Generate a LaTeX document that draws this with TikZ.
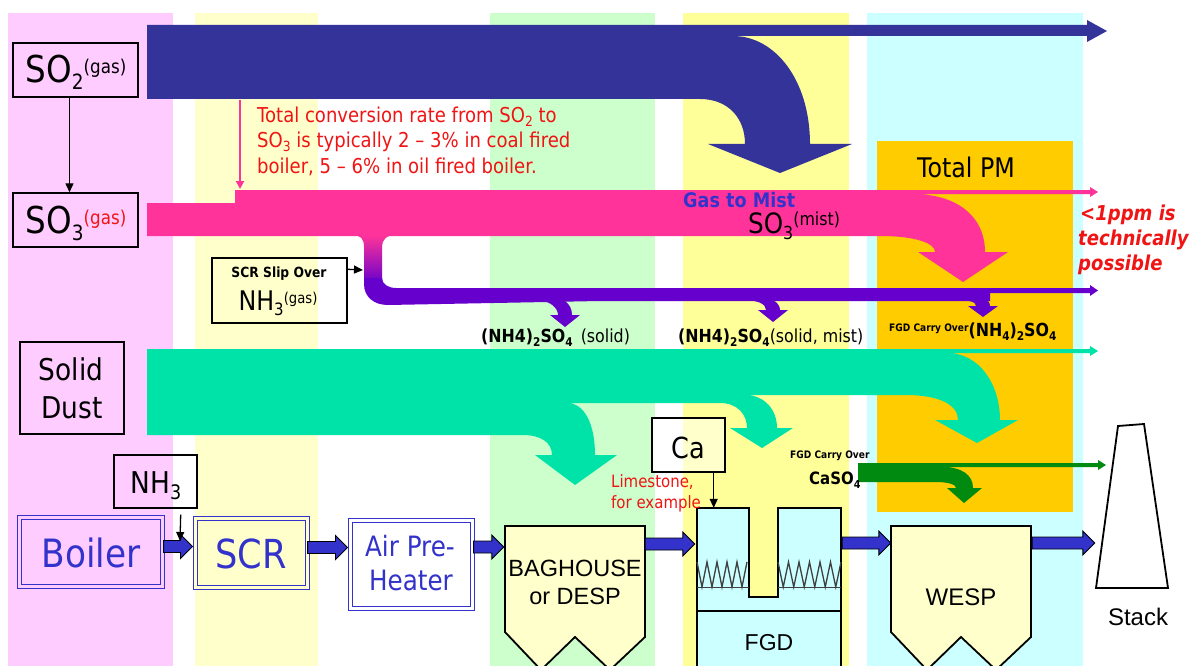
\documentclass[tikz,border=0pt]{standalone}
\usepackage{fontspec}
\setmainfont{DejaVu Sans}[FakeStretch=0.88]
\newfontfamily\arl{Liberation Sans}
\usetikzlibrary{calc,arrows.meta}
\definecolor{ink}{HTML}{000000}
\definecolor{colpink}{HTML}{FFCCFF}
\definecolor{colly}{HTML}{FFFFCC}
\definecolor{colgreen}{HTML}{CCFFCC}
\definecolor{colyellow}{HTML}{FFFF99}
\definecolor{colcyan}{HTML}{CCFFFF}
\definecolor{colorange}{HTML}{FFCC00}
\definecolor{bdblue}{HTML}{333399}
\definecolor{bpink}{HTML}{FF3399}
\definecolor{bpurple}{HTML}{6600CC}
\definecolor{bteal}{HTML}{00E3A8}
\definecolor{bgreen}{HTML}{008A10}
\definecolor{procblue}{HTML}{3333CC}
\definecolor{tred}{HTML}{F01414}
\definecolor{zigc}{HTML}{404040}
\definecolor{paper}{HTML}{FFFFFF}
\newcommand{\fs}[2]{\fontsize{#1pt}{#2pt}\selectfont}
\newcommand{\lowr}[3]{\raisebox{-#1pt}{\fontsize{#2pt}{#2pt}\selectfont #3}}
\newcommand{\upr}[3]{\raisebox{#1pt}{\fontsize{#2pt}{#2pt}\selectfont #3}}
\begin{document}
\begin{tikzpicture}[x=1pt,y=-1pt,
  chembox/.style={draw=ink, fill=#1, line width=1.4pt, inner sep=0pt},
  procbox/.style={draw=procblue, fill=#1, double=#1, double distance=2.5pt, line width=1.1pt, inner sep=0pt},
  hidden/.style={inner sep=0pt},
  plainarrow/.style={draw=ink, line width=1.3pt, -{Triangle[length=9pt,width=8pt]}},
  blockarrow/.style={draw=ink, line width=0.9pt, fill=procblue,
    to path={let \p1=(\tikztostart), \p2=(\tikztotarget) in
      (\x1,\y1+6pt) -- (\x2-12pt,\y1+6pt) -- (\x2-12pt,\y1+12pt) -- (\x2,\y1)
      -- (\x2-12pt,\y1-12pt) -- (\x2-12pt,\y1-6pt) -- (\x1,\y1-6pt) -- cycle}},
  vessel/.style={draw=ink, line width=1.8pt},
  zig/.style={draw=zigc, line width=1.3pt},
  lbl/.style={inner sep=0pt, anchor=base, text=ink},
  lblw/.style={inner sep=0pt, anchor=base west, text=ink},
]
\useasboundingbox (0,0) rectangle (1199,666);
\clip (0,0) rectangle (1199,666);
\fill[paper] (0,0) rectangle (1199,666);
\fill[colpink] (8,13) rectangle (173,666);
\fill[colly] (195,13) rectangle (318,666);
\fill[colgreen] (490,13) rectangle (655,666);
\fill[colyellow] (683,13) rectangle (849,666);
\fill[colcyan] (867,13) rectangle (1083,666);
\fill[colorange] (877,141) rectangle (1073,512);
% SO2 band
\fill[bdblue] (147,25) -- (1087,25) -- (1087,20) -- (1107,31) -- (1087,42) -- (1087,36) -- (733,36)
  .. controls (775,36) and (810,80) .. (810,144) -- (852,144) -- (780,173) -- (708,144) -- (745,144)
  .. controls (745,118) and (728,99) .. (700,99) -- (147,99) -- cycle;
% SO3 band
\fill[bpink] (147,203) -- (235,203) -- (235,190) -- (1090,190) -- (1090,187) -- (1098,192) -- (1090,197) -- (1090,194) -- (913,194)
  .. controls (955,194) and (985,215) .. (985,252) -- (1008,252) -- (963,282) -- (918,252) -- (935,252)
  .. controls (935,243) and (915,236) .. (880,236) -- (147,236) -- cycle;
\shade[top color=bpink, bottom color=bpurple] (352,235) .. controls (361,235) and (364,239) .. (364,247) -- (364,284) -- (382,284) -- (382,247) .. controls (382,240) and (386,235) .. (396,235) -- cycle;
\fill[bpurple] (364,278) -- (364,284) .. controls (364,297) and (374,305) .. (388,305) -- (600,301) -- (990,301) -- (990,293) -- (1090,293) -- (1090,296) -- (1098,290.5) -- (1090,285) -- (1090,288) -- (396,288) .. controls (388,288) and (382,284) .. (382,278) -- cycle;
\fill[bpurple] (545,296) .. controls (562,296) and (572,303) .. (572,315) -- (580,315) -- (565,327) -- (550,315) -- (558,315) .. controls (558,308) and (550,300) .. (535,300) -- cycle;
\fill[bpurple] (752,296) .. controls (770,296) and (780,302) .. (780,310) -- (788,310) -- (773,322) -- (758,310) -- (766,310) .. controls (766,304) and (758,300) .. (742,300) -- cycle;
\fill[bpurple] (962,294) .. controls (980,294) and (990,299) .. (990,306) -- (998,306) -- (983,317) -- (968,306) -- (976,306) .. controls (976,302) and (970,300) .. (955,300) -- cycle;
% solid dust band
\fill[bteal] (147,349) -- (1090,349) -- (1090,346) -- (1098,351) -- (1090,356) -- (1090,353) -- (947,353)
  .. controls (980,353) and (1000,385) .. (1000,420) -- (1018,420) -- (977,443) -- (935,420) -- (958,420)
  .. controls (958,405) and (940,395) .. (905,395) -- (745,395)
  .. controls (765,395) and (777,410) .. (777,428) -- (793,428) -- (762,448) -- (730,428) -- (747,428)
  .. controls (747,415) and (738,403) .. (720,403) -- (567,403)
  .. controls (585,403) and (595,425) .. (595,455) -- (617,455) -- (575,485) -- (535,455) -- (552,455)
  .. controls (552,442) and (540,435) .. (523,435) -- (147,435) -- cycle;
% CaSO4 band
\fill[bgreen] (858,463) -- (1098,463) -- (1098,460) -- (1106,465) -- (1098,470) -- (1098,467) -- (942,467)
  .. controls (962,467) and (973,475) .. (973,488) -- (982,488) -- (964,503) -- (947,488) -- (956,488)
  .. controls (956,485) and (950,482) .. (935,482) -- (858,482) -- cycle;
% conversion annotation arrow
\coordinate (convfrom) at (240,100);
\coordinate (convto) at (240,189);
\draw[bpink, line width=2pt, -{Triangle[length=8pt,width=8pt]}] (convfrom) -- (convto);
% vessels
\node[hidden, minimum width=140pt, minimum height=111pt] (bag) at (575,581.5) {};
\node[hidden, minimum width=140pt, minimum height=111pt] (wesp) at (961,581.5) {};
\node[hidden, minimum width=144pt, minimum height=158pt] (fgd) at (769,587) {};
\node[hidden, minimum width=72pt, minimum height=165pt] (stack) at (1132,506.5) {};
\filldraw[fill=colly, vessel] (505,632) -- (505,526) -- (645,526) -- (645,637) -- (610,670) -- (575,637) -- (541,670) -- cycle;
\filldraw[fill=colly, vessel] (891,632) -- (891,526) -- (1031,526) -- (1031,637) -- (996,670) -- (961,637) -- (927,670) -- cycle;
\filldraw[fill=colcyan, vessel] (697,680) -- (697,508) -- (749,508) -- (749,597) -- (778,597) -- (778,508) -- (841,508) -- (841,680) -- cycle;
\draw[vessel, line width=1.5pt] (697,611) -- (841,611);
\draw[zig, line width=1pt] (697,587) -- (749,587);
\draw[zig, line width=1pt] (778,587) -- (841,587);
\draw[zig] (697,562) \foreach \i in {0,...,4} { -- ({702+10*\i},587) -- ({707+10*\i},562) };
\draw[zig] (778,562) \foreach \i in {0,...,5} { -- ({783.25+10.5*\i},587) -- ({788.5+10.5*\i},562) };
\filldraw[fill=paper, vessel] (1096,588) -- (1118,426) -- (1144,424) -- (1168,588) -- cycle;
% boxes
\node[chembox=colpink, minimum width=125pt, minimum height=54pt] (so2) at (75.5,70) {};
\node[chembox=colpink, minimum width=125pt, minimum height=54pt] (so3) at (75.5,220) {};
\node[chembox=colpink, minimum width=104pt, minimum height=92pt] (dust) at (72,388) {};
\node[chembox=colly, minimum width=135pt, minimum height=65pt] (slip) at (279.5,290.5) {};
\node[chembox=colpink, minimum width=83pt, minimum height=53pt] (nh3) at (155.5,481.5) {};
\node[chembox=colly, minimum width=73pt, minimum height=54pt] (ca) at (688.5,445) {};
\fill[paper] (318,258.8) rectangle (346.2,322.2);
\fill[paper] (173,455.8) rectangle (196.2,507.2);
\fill[paper] (652.8,418.8) rectangle (683,471.2);
\node[procbox=colpink, minimum width=143pt, minimum height=69pt] (boiler) at (91,552) {};
\node[procbox=colly, minimum width=112pt, minimum height=69pt] (scr) at (251.5,553) {};
\node[procbox=paper, minimum width=122pt, minimum height=88pt] (air) at (411.5,564.5) {};
% block arrows between process units
\draw[blockarrow] ($(boiler.east)+(0.5,-5.5)$) to ($(scr.west)+(-2.5,-5.5)$);
\draw[blockarrow] ($(scr.east)+(-0.5,-5.5)$) to ($(air.west)+(-2.5,-5.5)$);
\draw[blockarrow] ($(air.east)+(0.5,-17.5)$) to ($(bag.west)+(-1,-17.5)$);
\draw[blockarrow] ($(bag.east)+(0,-37.5)$) to ($(fgd.west)+(-2,-37.5)$);
\draw[blockarrow] ($(fgd.east)+(1,-44)$) to ($(wesp.west)+(0,-44)$);
\draw[blockarrow] ($(wesp.east)+(1,-38.5)$) to ($(stack.west)+(-1,-38.5)$);
% thin arrows
\draw[plainarrow] ($(so2.south)+(-6,0)$) -- ($(so3.north)+(-6,0)$);
\coordinate (nhout) at ($(nh3.south east)+(-17,6)$);
\coordinate (nhin) at (180,541);
\draw[plainarrow] (nhout) -- (nhin);
\coordinate (slipout) at ($(slip.north east)+(0,12)$);
\coordinate (slipin) at (363,270);
\draw[plainarrow] (slipout) -- (slipin);
\coordinate (caout) at ($(ca.south east)+(-12,0)$);
\draw[plainarrow] (caout) -- (caout |- fgd.north);
% texts
\node[lbl, font=\fs{37}{40}] (so2t) at (76,83) {SO\lowr{7}{21}{2}\upr{9}{19}{(gas)}};
\node[lbl, font=\fs{37}{40}] (so3t) at (76,233) {SO\lowr{7}{21}{3}\upr{9}{19}{\textcolor{tred}{(gas)}}};
\node[lbl, font=\fs{30}{36}] (dust1) at (71,380) {Solid};
\node[lbl, font=\fs{30}{36}] (dust2) at (72,418) {Dust};
\node[lbl, font=\fs{14}{16}\bfseries] (slip1) at (279,277) {SCR Slip Over};
\node[lbl, font=\fs{27}{30}] (slip2) at (278,310) {NH\lowr{5}{17}{3}\upr{7}{15}{(gas)}};
\node[lbl, font=\fs{30}{34}] (nh3t) at (156,493) {NH\lowr{6}{20}{3}};
\node[lbl, font=\fs{29}{32}] (cat) at (688,458) {Ca};
\node[lblw, text=tred, font=\fs{20.5}{25}] (conv1) at (257,123) {Total conversion rate from SO\lowr{4}{14}{2} to};
\node[lblw, text=tred, font=\fs{20.5}{25}] (conv2) at (257,148) {SO\lowr{4}{14}{3} is typically 2 – 3\% in coal fired};
\node[lblw, text=tred, font=\fs{20.5}{25}] (conv3) at (257,173) {boiler, 5 – 6\% in oil fired boiler.};
\node[lbl, font=\fs{27}{30}] (tpm) at (966,177) {Total PM};
\node[lblw, text=procblue, font=\fs{20}{22}\bfseries] (g2m) at (683,207) {Gas to Mist};
\node[lblw, font=\fs{28}{30}] (so3m) at (748,233) {SO\lowr{6}{18}{3}\upr{8}{18}{(mist)}};
\node[lblw, text=tred, font=\fs{20.5}{25}\bfseries\itshape] (ppm1) at (1080,220) {<1ppm is};
\node[lblw, text=tred, font=\fs{20.5}{25}\bfseries\itshape] (ppm2) at (1078,245) {technically};
\node[lblw, text=tred, font=\fs{20.5}{25}\bfseries\itshape] (ppm3) at (1078,270) {possible};
\node[lblw, font=\fs{18}{20}] (amm1) at (481,342) {\textbf{(NH4)\lowr{4}{12}{2}SO\lowr{4}{12}{4}}\hspace{8pt}(solid)};
\node[lblw, font=\fs{18}{20}] (amm2) at (678,342) {\textbf{(NH4)\lowr{4}{12}{2}SO\lowr{4}{12}{4}}(solid, mist)};
\node[lblw, font=\fs{18}{20}\bfseries] (amm3) at (889,336) {\upr{5}{10.3}{FGD Carry Over}(NH\lowr{4}{12}{4})\lowr{4}{12}{2}SO\lowr{4}{12}{4}};
\node[lblw, font=\fs{10.3}{12}\bfseries] (fgdco) at (790,458) {FGD Carry Over};
\node[lblw, font=\fs{17}{20}\bfseries] (caso) at (809,484) {CaSO\lowr{4}{11}{4}};
\node[lblw, text=tred, font=\fs{17}{20}] (lime1) at (611,487) {Limestone,};
\node[lblw, text=tred, font=\fs{17}{20}] (lime2) at (611,508) {for example};
\node[lbl, text=procblue, font=\fs{39}{42}] (boilert) at (91,567) {Boiler};
\node[lbl, text=procblue, font=\fs{40}{42}] (scrt) at (251,568) {SCR};
\node[lbl, text=procblue, font=\fs{28}{32}] (air1) at (410,556) {Air Pre-};
\node[lbl, text=procblue, font=\fs{28}{32}] (air2) at (411,590) {Heater};
\node[lbl, font=\arl\fs{23.5}{26}] (bag1) at (575,576) {BAGHOUSE};
\node[lbl, font=\arl\fs{23.5}{26}] (bag2) at (575,604) {or DESP};
\node[lbl, font=\arl\fs{23}{26}] (fgdt) at (769,650) {FGD};
\node[lbl, font=\arl\fs{24}{26}] (wespt) at (961,605) {WESP};
\node[lbl, font=\arl\fs{24}{26}] (stackt) at (1138,625) {Stack};
\end{tikzpicture}
\end{document}
